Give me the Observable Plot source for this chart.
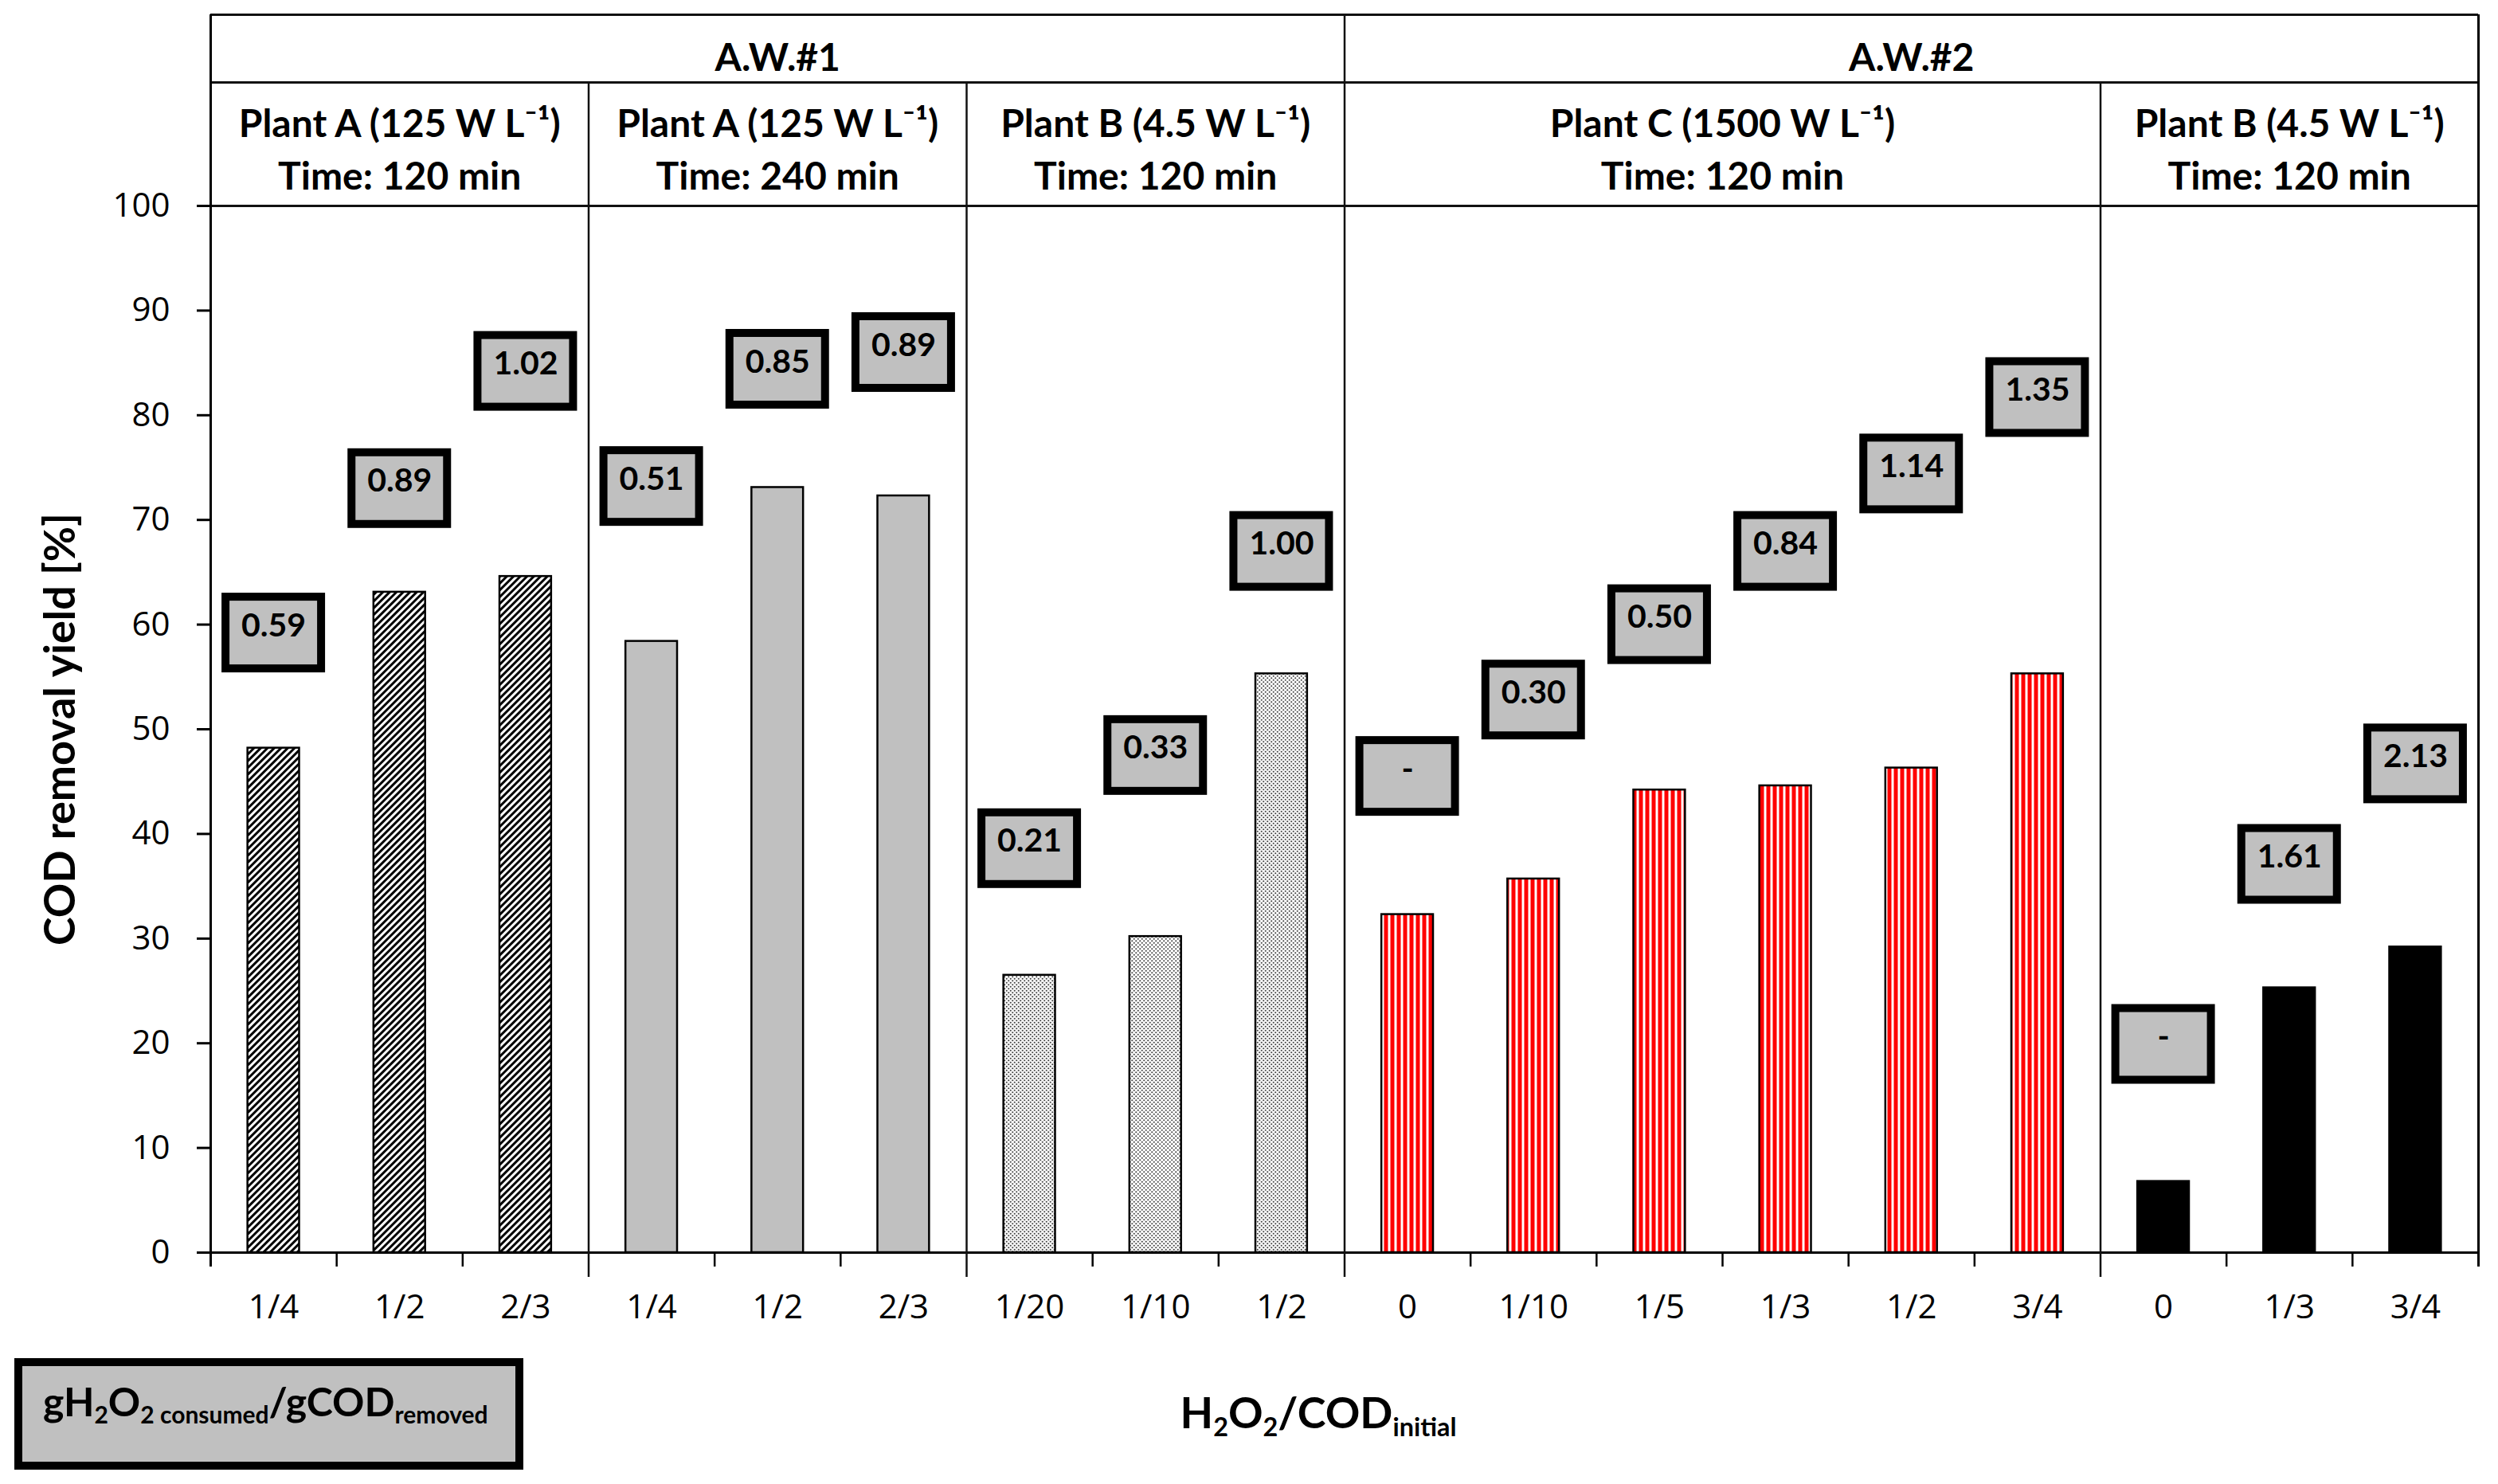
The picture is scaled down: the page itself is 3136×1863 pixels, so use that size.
<!DOCTYPE html>
<html>
<head>
<meta charset="utf-8">
<script src="https://cdn.jsdelivr.net/npm/d3@7"></script>
<script src="https://cdn.jsdelivr.net/npm/@observablehq/plot@0.6"></script>
<style>
  html, body { margin: 0; padding: 0; background: #fff; overflow: hidden; }
  #wrap { position: relative; width: 3136px; height: 1863px; }
  #chart svg { display: block; }
  #footer { position: relative; height: 173px; }
  .key {
    position: absolute; left: 18px; top: 15px; width: 639px; height: 140px;
    box-sizing: border-box; border: 10px solid #000; background: #c0c0c0;
    font: bold 50px Lato, "Noto Sans", sans-serif; padding: 14px 0 0 26px;
    white-space: nowrap; color: #000;
  }
  .xtitle {
    position: absolute; left: 1655px; top: 50px; transform: translateX(-50%);
    font: bold 54px Lato, "Noto Sans", sans-serif; white-space: nowrap; color: #000;
  }
  .key sub, .xtitle sub { font-size: 0.6em; vertical-align: baseline; position: relative; top: 0.3em; }
</style>
</head>
<body>
<svg width="0" height="0" style="position:absolute">
  <defs>
    <pattern id="hatch" width="6" height="6" patternUnits="userSpaceOnUse" patternTransform="rotate(45)">
      <rect width="6" height="6" fill="#fff"/>
      <rect width="3" height="6" fill="#000"/>
    </pattern>
    <pattern id="dots" width="5" height="5" patternUnits="userSpaceOnUse">
      <rect width="5" height="5" fill="#fff"/>
      <circle cx="1.25" cy="1.25" r="1.1" fill="#444"/>
      <circle cx="3.75" cy="3.75" r="1.1" fill="#444"/>
    </pattern>
    <pattern id="stripes" width="8" height="8" patternUnits="userSpaceOnUse">
      <rect width="8" height="8" fill="#fff"/>
      <rect x="1.5" width="5" height="8" fill="#ff0000"/>
    </pattern>
  </defs>
</svg>
<div id="wrap">
  <div id="chart"></div>
  <div id="footer">
    <div class="key">gH<sub>2</sub>O<sub>2 consumed</sub>/gCOD<sub>removed</sub></div>
    <div class="xtitle">H<sub>2</sub>O<sub>2</sub>/COD<sub>initial</sub></div>
  </div>
</div>
<script>
// ── data ────────────────────────────────────────────────────
const WATERS      = ["A.W.#1", "A.W.#2"];
const PLANTS      = ["Plant A (125 W L⁻¹)", "Plant A (125 W L⁻¹)", "Plant B (4.5 W L⁻¹)",
                     "Plant C (1500 W L⁻¹)", "Plant B (4.5 W L⁻¹)"];
const TIMES       = ["Time: 120 min", "Time: 240 min", "Time: 120 min", "Time: 120 min", "Time: 120 min"];
const PLANT_WATER = [0, 0, 0, 1, 1];

// H2O2/COD initial ratio (x tick labels)
const RATIOS = [
  ["1/4", "1/2", "2/3"],
  ["1/4", "1/2", "2/3"],
  ["1/20", "1/10", "1/2"],
  ["0", "1/10", "1/5", "1/3", "1/2", "3/4"],
  ["0", "1/3", "3/4"]
];
// COD removal yield [%]
const COD_REMOVAL = [
  [48.2, 63.1, 64.6],
  [58.4, 73.1, 72.3],
  [26.5, 30.2, 55.3],
  [32.3, 35.7, 44.2, 44.6, 46.3, 55.3],
  [6.8, 25.3, 29.2]
];
// gH2O2 consumed / gCOD removed (boxed labels)
const H2O2_PER_COD = [
  ["0.59", "0.89", "1.02"],
  ["0.51", "0.85", "0.89"],
  ["0.21", "0.33", "1.00"],
  ["-", "0.30", "0.50", "0.84", "1.14", "1.35"],
  ["-", "1.61", "2.13"]
];
// level (in % units) where each boxed label sits
const LABEL_LEVEL = [
  [59.2, 73.0, 84.2],
  [73.2, 84.4, 86.0],
  [38.6, 47.5, 67.0],
  [45.5, 52.8, 60.0, 67.0, 74.4, 81.7],
  [19.9, 37.1, 46.7]
];
const Y_TICKS = [0, 10, 20, 30, 40, 50, 60, 70, 80, 90, 100];

// ── styles ──────────────────────────────────────────────────
const GROUP_FILL = ["url(#hatch)", "#c0c0c0", "url(#dots)", "url(#stripes)", "#000"];
const BAR_HALF   = 0.205;   // half bar width, in category steps
const BOLD_FONT  = "Lato, 'Noto Sans', sans-serif";
const LINE       = "#111";

// ── flatten ─────────────────────────────────────────────────
const rows = [];
const plantSpans = [];
let k = 0;
PLANTS.forEach((plant, g) => {
  const start = k;
  RATIOS[g].forEach((r, j) => {
    rows.push({ i: k, g, ratio: r, cod: COD_REMOVAL[g][j], yld: H2O2_PER_COD[g][j], level: LABEL_LEVEL[g][j] });
    k++;
  });
  plantSpans.push({ plant, time: TIMES[g], water: PLANT_WATER[g], start, end: k, mid: (start + k) / 2 });
});
const N = rows.length;
const waterSpans = WATERS.map((name, w) => {
  const s = plantSpans.filter(p => p.water === w);
  const start = s[0].start, end = s[s.length - 1].end;
  return { name, start, end, mid: (start + end) / 2 };
});
const waterDividers = waterSpans.slice(1).map(w => w.start);
const plantDividers = plantSpans.slice(1).map(p => p.start).filter(x => !waterDividers.includes(x));
const groupEdges = new Set([0, N, ...plantSpans.map(p => p.start)]);
const minorEdges = d3.range(1, N).filter(x => !groupEdges.has(x));
const centers = rows.map(d => d.i + 0.5);

// ── layout ──────────────────────────────────────────────────
const W = 3136, H = 1690;
const MT = 258, MB = 118, ML = 264, MR = 25;
const FRAME_H = H - MT - MB;

const chart = Plot.plot({
  width: W,
  height: H,
  marginTop: MT,
  marginBottom: MB,
  marginLeft: ML,
  marginRight: MR,
  style: { fontFamily: "'Open Sans', sans-serif", fontSize: "42px", color: "#000", background: "#fff" },
  color: { type: "identity" },
  x: { domain: [0, N], axis: null },
  y: { domain: [0, 100], axis: null },
  marks: [
    // bars
    Plot.rectY(rows, {
      x1: d => d.i + 0.5 - BAR_HALF,
      x2: d => d.i + 0.5 + BAR_HALF,
      y: "cod",
      fill: d => GROUP_FILL[d.g],
      stroke: "#000",
      strokeWidth: 2.5
    }),

    // frame / header grid
    Plot.ruleY([100], { dy: -240, stroke: LINE, strokeWidth: 3 }),
    Plot.ruleY([100], { dy: -155, stroke: LINE, strokeWidth: 3 }),
    Plot.ruleY([100], { stroke: LINE, strokeWidth: 3 }),
    Plot.ruleY([0], { stroke: "#000", strokeWidth: 3 }),
    Plot.ruleX([0, N], { insetTop: -240, insetBottom: -18, stroke: "#000", strokeWidth: 3 }),
    Plot.ruleX(waterDividers, { insetTop: -240, insetBottom: -31, stroke: LINE, strokeWidth: 2.5 }),
    Plot.ruleX(plantDividers, { insetTop: -155, insetBottom: -31, stroke: LINE, strokeWidth: 2.5 }),
    Plot.ruleX(minorEdges, { insetTop: FRAME_H, insetBottom: -18, stroke: "#000", strokeWidth: 2.5 }),

    // header texts
    Plot.text(waterSpans, {
      x: "mid", frameAnchor: "top", lineAnchor: "middle", dy: -185, text: "name",
      fontFamily: BOLD_FONT, fontWeight: "bold", fontSize: 48, fill: "#000"
    }),
    Plot.text(plantSpans, {
      x: "mid", frameAnchor: "top", lineAnchor: "middle", dy: -75, text: d => d.plant + "\n" + d.time,
      lineHeight: 1.375, fontFamily: BOLD_FONT, fontWeight: "bold", fontSize: 48, fill: "#000"
    }),

    // boxed labels
    Plot.rect(rows, {
      x1: d => d.i + 0.5, x2: d => d.i + 0.5, y1: "level", y2: "level",
      insetLeft: -60, insetRight: -60, insetTop: -45, insetBottom: -45,
      fill: "#c0c0c0", stroke: "#000", strokeWidth: 10
    }),
    Plot.text(rows, {
      x: d => d.i + 0.5, y: "level", text: "yld", dy: -9,
      fontFamily: BOLD_FONT, fontWeight: "bold", fontSize: 41, fill: "#000"
    }),

    // axes
    Plot.axisY({ ticks: Y_TICKS, tickSize: 17, tickPadding: 34, strokeWidth: 3, label: null }),
    Plot.axisX({ ticks: centers, tickFormat: v => rows[Math.floor(v)].ratio, tickSize: 0, tickPadding: 53, label: null }),
    Plot.text(["COD removal yield [%]"], {
      frameAnchor: "left", textAnchor: "middle", lineAnchor: "middle", dx: -188, rotate: -90, text: d => d,
      fontFamily: BOLD_FONT, fontWeight: "bold", fontSize: 54, fill: "#000"
    })
  ]
});

document.getElementById("chart").appendChild(chart);
</script>
</body>
</html>
